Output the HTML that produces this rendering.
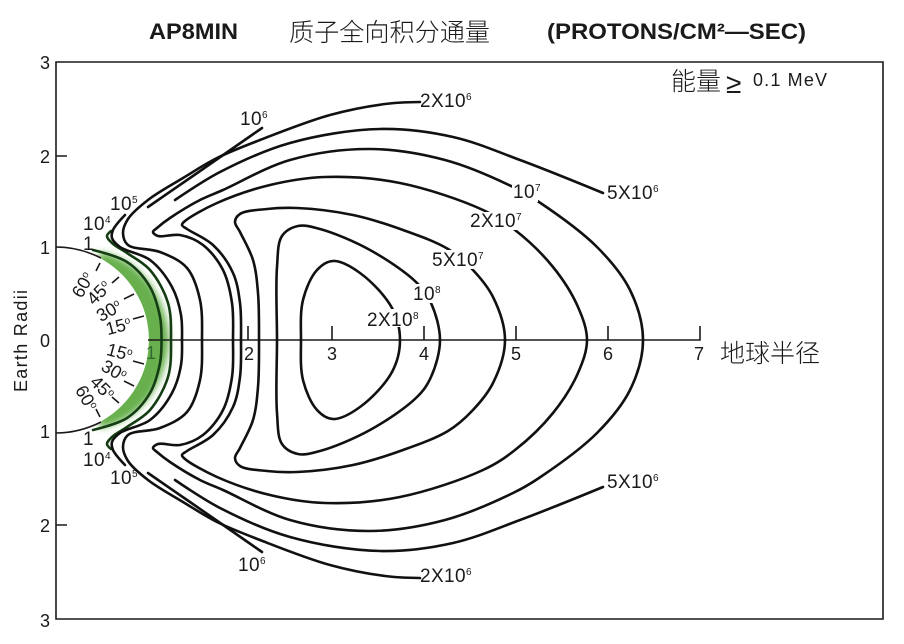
<!DOCTYPE html>
<html><head><meta charset="utf-8"><style>
html,body{margin:0;padding:0;background:#fff}
svg{display:block}
text{font-family:"Liberation Sans","Noto Sans CJK SC",sans-serif;fill:#1a1a1a}
.l{font-size:19px;letter-spacing:.4px}
.s{font-size:10px}
.c{font-size:25px;font-weight:300}
.b{font-size:22px;font-weight:bold}
.n{font-size:18px;text-anchor:middle}
.a{font-size:18px;text-anchor:middle}
</style></head><body>
<svg id="g" xmlns="http://www.w3.org/2000/svg" width="904" height="644" viewBox="0 0 904 644">
<defs><filter id="bl" x="-40%" y="-30%" width="180%" height="160%"><feGaussianBlur stdDeviation="3.5"/></filter></defs>
<rect width="904" height="644" fill="#fff"/>
<path d="M100 252 C135 258 166 290 169 340 C166 390 135 422 100 428 L80 340 Z" fill="#68b04e" filter="url(#bl)"/>
<path d="M56 247 A93 93 0 0 1 56 433 Z" fill="#fff"/>
<g fill="none" stroke="#1a1a1a" stroke-width="1.6">
<path d="M56 62 H883 V619 H56 Z"/>
<path d="M56 156 H67 M56 525 H67"/>
<path d="M56 247 C72 247 87 251 101 258 M56 433 C72 433 87 429 101 422"/>
<path d="M148 340 H700 V326 M248 340 V326 M332 340 V326 M424 340 V326 M516 340 V326 M608 340 V326"/>
<path d="M100 263 L96 271 M119 277 L112 283 M134 294 L124 299 M144 316 L133 319 M100 417 L96 409 M119 403 L112 397 M134 386 L124 381 M144 364 L133 361"/>
</g>
<g id="curves" fill="none" stroke="#111" stroke-width="2.6" stroke-linecap="round" stroke-linejoin="round"></g>
<g fill="#fff">
<rect x="512" y="182" width="26" height="20"/>
<rect x="468" y="212" width="56" height="18"/>
<rect x="431" y="250" width="56" height="19"/>
<rect x="412" y="284" width="30" height="19"/>
<rect x="366" y="309" width="55" height="18"/>
</g>
<text x="149" y="39" class="b" textLength="89" lengthAdjust="spacingAndGlyphs">AP8MIN</text>
<text x="289" y="41" class="c" textLength="201" lengthAdjust="spacingAndGlyphs">质子全向积分通量</text>
<text x="547" y="39" class="b" textLength="259" lengthAdjust="spacingAndGlyphs">(PROTONS/CM²—SEC)</text>
<text x="671" y="90" class="c" textLength="50">能量</text>
<text x="726" y="93" style="font-size:28px">≥</text>
<text x="753" y="86" style="font-size:18px" textLength="74">0.1 MeV</text>
<text x="720" y="362" class="c" textLength="100">地球半径</text>
<text x="45" y="69" class="n">3</text><text x="45" y="163" class="n">2</text><text x="45" y="254" class="n">1</text><text x="45" y="347" class="n">0</text><text x="45" y="438" class="n">1</text><text x="45" y="532" class="n">2</text><text x="45" y="627" class="n">3</text>
<text x="151" y="359" class="a" style="fill:#2e6b2e">1</text>
<text x="249" y="360" class="n">2</text><text x="332" y="360" class="n">3</text><text x="424" y="360" class="n">4</text><text x="516" y="360" class="n">5</text><text x="608" y="360" class="n">6</text><text x="699" y="360" class="n">7</text>
<text transform="translate(27 341) rotate(-90)" class="a" style="font-size:18px" textLength="102">Earth Radii</text>
<text x="83" y="250" class="l">1</text>
<text x="83" y="445" class="l">1</text>
<text x="83" y="230" class="l">10<tspan class="s" dy="-7">4</tspan></text>
<text x="83" y="466" class="l">10<tspan class="s" dy="-7">4</tspan></text>
<text x="110" y="210" class="l">10<tspan class="s" dy="-7">5</tspan></text>
<text x="110" y="484" class="l">10<tspan class="s" dy="-7">5</tspan></text>
<text x="240" y="125" class="l">10<tspan class="s" dy="-7">6</tspan></text>
<text x="238" y="571" class="l">10<tspan class="s" dy="-7">6</tspan></text>
<text x="420" y="107" class="l">2X10<tspan class="s" dy="-7">6</tspan></text>
<text x="420" y="582" class="l">2X10<tspan class="s" dy="-7">6</tspan></text>
<text x="607" y="199" class="l">5X10<tspan class="s" dy="-7">6</tspan></text>
<text x="607" y="488" class="l">5X10<tspan class="s" dy="-7">6</tspan></text>
<text x="513" y="198" class="l">10<tspan class="s" dy="-7">7</tspan></text>
<text x="470" y="227" class="l">2X10<tspan class="s" dy="-7">7</tspan></text>
<text x="432" y="266" class="l">5X10<tspan class="s" dy="-7">7</tspan></text>
<text x="413" y="300" class="l">10<tspan class="s" dy="-7">8</tspan></text>
<text x="367" y="326" class="l">2X10<tspan class="s" dy="-7">8</tspan></text>
<text transform="translate(88 288) rotate(-60)" class="a">60<tspan class="s" dy="-6">o</tspan></text>
<text transform="translate(103 297) rotate(-45)" class="a">45<tspan class="s" dy="-6">o</tspan></text>
<text transform="translate(112 316) rotate(-30)" class="a">30<tspan class="s" dy="-6">o</tspan></text>
<text transform="translate(120 332) rotate(-15)" class="a">15<tspan class="s" dy="-6">o</tspan></text>
<text transform="translate(118 358) rotate(15)" class="a">15<tspan class="s" dy="-6">o</tspan></text>
<text transform="translate(111 376) rotate(30)" class="a">30<tspan class="s" dy="-6">o</tspan></text>
<text transform="translate(98 392) rotate(45)" class="a">45<tspan class="s" dy="-6">o</tspan></text>
<text transform="translate(81 401) rotate(60)" class="a">60<tspan class="s" dy="-6">o</tspan></text>
</svg>
<script>
var C=[
{c:"#143d14",p:[[93,250],[127,262],[150,287],[160,317],[161.5,340]]},
{c:"#143d14",p:[[111,231],[107,236],[112,243],[127,253],[150,270],[168,303],[171,340]]},
{p:[[125,215],[113,230],[112,238],[120,247],[150,260],[172,287],[181,315],[182,340]]},
{p:[[148,207],[190,178],[262,128]]},
{p:[[420,102],[385,104],[330,115],[260,140],[217,158],[183,178],[148,200],[128,219],[123,233],[128,245],[160,252],[187,268],[200,300],[202,340]]},
{p:[[175,200],[220,172],[290,143],[380,129],[453,137],[520,160],[603,193]]},
{p:[[233,340],[232,303],[223,270],[203,245],[180,235],[158,236],[153,232],[157,228],[170,218],[200,200],[223,190],[290,160],[370,149],[445,160],[513,187],[539,202],[597,247],[630,290],[643,340]]},
{p:[[241,340],[240,303],[233,273],[213,245],[187,229],[182,225],[185,221],[217,203],[270,185],[325,177],[400,183],[483,210],[515,230],[553,267],[578,307],[587,340]]},
{p:[[259,340],[258,293],[253,260],[240,232],[235,222],[240,214],[267,209],[297,208],[353,215],[403,230],[448,249],[472,269],[493,297],[505,340]]},
{p:[[277,340],[277,267],[282,236],[298,226],[320,229],[370,250],[417,283],[431,303],[440,340]]},
{p:[[301,340],[303,300],[317,270],[333,261],[360,273],[392,308],[400,340]]}
];
function P(a){var n=a.length,g=function(i){
 if(i<0){var q=a[0];return q[1]==340?[a[1][0],680-a[1][1]]:null}
 if(i>=n){var q=a[n-1];return q[1]==340?[a[n-2][0],680-a[n-2][1]]:null}
 return a[i]};
 function D(u,v){return Math.pow(Math.hypot(u[0]-v[0],u[1]-v[1]),0.5)}
 var d="M"+a[0][0]+" "+a[0][1];
 for(var i=0;i<n-1;i++){var p0=g(i-1),p1=g(i),p2=g(i+1),p3=g(i+2),d2=D(p1,p2),b1=p1,b2=p2;
  if(p0){var d1=D(p0,p1),A=2*d1*d1+3*d1*d2+d2*d2,N=3*d1*(d1+d2);
   b1=[(d1*d1*p2[0]-d2*d2*p0[0]+A*p1[0])/N,(d1*d1*p2[1]-d2*d2*p0[1]+A*p1[1])/N];}
  if(p3){var d3=D(p2,p3),B=2*d3*d3+3*d3*d2+d2*d2,M=3*d3*(d3+d2);
   b2=[(d3*d3*p1[0]-d2*d2*p3[0]+B*p2[0])/M,(d3*d3*p1[1]-d2*d2*p3[1]+B*p2[1])/M];}
  d+=" C"+b1[0].toFixed(1)+" "+b1[1].toFixed(1)+" "+b2[0].toFixed(1)+" "+b2[1].toFixed(1)+" "+p2[0]+" "+p2[1];}
 return d}
var h="";
C.forEach(function(k){var m=k.p.map(function(q){return[q[0],680-q[1]]});
 var s=k.c?' stroke="'+k.c+'"':'';
 h+='<path'+s+' d="'+P(k.p)+'"/><path'+s+' d="'+P(m)+'"/>';});
document.getElementById("curves").innerHTML=h;
</script>
</body></html>
